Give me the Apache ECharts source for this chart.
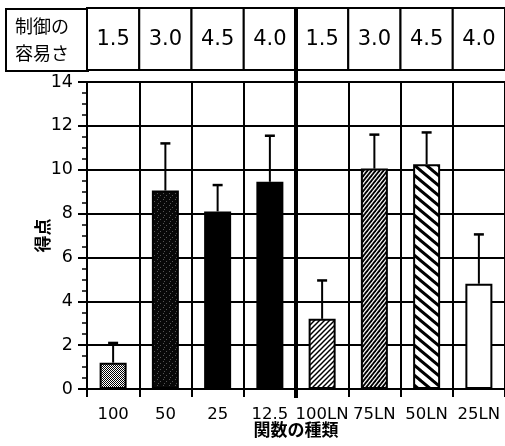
<!DOCTYPE html>
<html><head><meta charset="utf-8">
<script src="https://cdn.jsdelivr.net/npm/echarts@6/dist/echarts.min.js"></script>
<style>html,body{margin:0;padding:0;background:#fff}#c{width:505px;height:446px}</style>
</head><body><div id="c"></div>
<script>
// ---- data ----
const categories = ['100', '50', '25', '12.5', '100LN', '75LN', '50LN', '25LN'];
const scores = [1.2, 9.05, 8.1, 9.45, 3.2, 10.05, 10.25, 4.8];
const errorTops = [2.1, 11.2, 9.3, 11.55, 4.95, 11.6, 11.7, 7.05];
const controlEase = ['1.5', '3.0', '4.5', '4.0', '1.5', '3.0', '4.5', '4.0'];
const groupBoundary = [3, 4]; // thick divider between these two categories
const tableHeader = '制御の\n容易さ';
const yName = '得点';
const xName = '関数の種類';

// ---- layout ----
const PLOT_LEFT = 87, PLOT_RIGHT = -2, PLOT_TOP = 82, PLOT_BOTTOM = 57;
const TABLE_TOP = 8, TABLE_H = 62;
const NUM_FONT = '"DejaVu Sans", sans-serif';
const CJK_FONT = '"Noto Sans CJK JP", sans-serif';

// ---- fill patterns ----
function mk(w, h) { const c = document.createElement('canvas'); c.width = w; c.height = h; return c; }
function checker() {
  const c = mk(2, 2), g = c.getContext('2d');
  g.fillStyle = '#fff'; g.fillRect(0, 0, 2, 2);
  g.fillStyle = '#000'; g.fillRect(0, 0, 1, 1); g.fillRect(1, 1, 1, 1);
  return { image: c, repeat: 'repeat' };
}
function darkSpeckle() {
  const c = mk(6, 6), g = c.getContext('2d');
  g.fillStyle = '#080808'; g.fillRect(0, 0, 6, 6);
  g.fillStyle = '#555'; g.fillRect(1, 1, 1, 1); g.fillRect(4, 3, 1, 1); g.fillRect(2, 5, 1, 1);
  return { image: c, repeat: 'repeat' };
}
function hatch(w, h, lw, dir) {
  const c = mk(w, h), g = c.getContext('2d');
  g.fillStyle = '#fff'; g.fillRect(0, 0, w, h);
  g.strokeStyle = '#000'; g.lineWidth = lw; g.lineCap = 'square';
  for (let k = -1; k <= 1; k++) {
    g.beginPath();
    if (dir === '/') { g.moveTo(k * w, h); g.lineTo(k * w + w, 0); }
    else { g.moveTo(k * w, 0); g.lineTo(k * w + w, h); }
    g.stroke();
  }
  return { image: c, repeat: 'repeat' };
}
const fills = [
  checker(), darkSpeckle(), '#000', '#000',
  hatch(5, 5, 1.5, '/'), hatch(4, 5, 1.9, '/'), hatch(12, 10, 3, '\\'), '#fff'
];

const chart = echarts.init(document.getElementById('c'), null, { renderer: 'canvas' });

chart.setOption({
  animation: false,
  backgroundColor: '#fff',
  grid: [
    { left: PLOT_LEFT, right: PLOT_RIGHT, top: PLOT_TOP, bottom: PLOT_BOTTOM },
    { left: PLOT_LEFT, right: PLOT_RIGHT, top: TABLE_TOP, height: TABLE_H }
  ],
  xAxis: [
    {
      type: 'category', gridIndex: 0, data: categories,
      name: xName, nameLocation: 'middle', nameGap: 32, nameMoveOverlap: false,
      nameTextStyle: { fontFamily: CJK_FONT, fontSize: 17, color: '#000', fontWeight: 'bold' },
      axisLine: { lineStyle: { color: '#000', width: 2 } },
      axisTick: { show: true, length: 8, lineStyle: { color: '#000', width: 2 } },
      axisLabel: { interval: 0, color: '#000', fontFamily: NUM_FONT, fontSize: 16.5, margin: 17 },
      splitLine: { show: true, interval: 0, lineStyle: { color: '#000', width: 2 } }
    },
    { type: 'category', gridIndex: 1, data: categories, show: false }
  ],
  yAxis: [
    {
      type: 'value', gridIndex: 0, min: 0, max: 14, interval: 2,
      name: yName, nameLocation: 'middle', nameGap: 36, nameMoveOverlap: false,
      nameTextStyle: { fontFamily: CJK_FONT, fontSize: 17, color: '#000', fontWeight: 'bold' },
      axisLine: { show: true, lineStyle: { color: '#000', width: 2 } },
      axisTick: { show: true, length: 9, lineStyle: { color: '#000', width: 2 } },
      minorTick: { show: true, splitNumber: 4, length: 5, lineStyle: { color: '#000', width: 1.5 } },
      axisLabel: { color: '#000', fontFamily: NUM_FONT, fontSize: 17.5, margin: 14 },
      splitLine: { show: true, lineStyle: { color: '#000', width: 2 } }
    },
    { type: 'value', gridIndex: 1, min: 0, max: 1, show: false }
  ],
  graphic: [{
    type: 'group', left: 5, top: TABLE_TOP,
    children: [
      { type: 'rect', shape: { x: 0, y: 0, width: PLOT_LEFT - 5, height: TABLE_H },
        style: { fill: '#fff', stroke: '#000', lineWidth: 2 } },
      { type: 'text', x: 9, y: TABLE_H / 2,
        style: { text: tableHeader, font: '18px ' + CJK_FONT, fill: '#000',
                 verticalAlign: 'middle', align: 'left', lineHeight: 27 } }
    ]
  }],
  series: [
    {
      type: 'bar', xAxisIndex: 0, yAxisIndex: 0, barWidth: 27, z: 2,
      data: scores.map((v, i) => ({
        value: v,
        itemStyle: { color: fills[i], borderColor: '#000', borderWidth: 2 }
      }))
    },
    {
      type: 'custom', xAxisIndex: 0, yAxisIndex: 0, z: 3,
      data: scores.map((v, i) => [i, v, errorTops[i]]),
      encode: { x: 0, y: [1, 2] },
      renderItem(params, api) {
        const x = api.value(0);
        const lo = api.coord([x, api.value(1)]);
        const hi = api.coord([x, api.value(2)]);
        const cap = 5;
        return {
          type: 'group', children: [
            { type: 'line', shape: { x1: lo[0], y1: lo[1], x2: hi[0], y2: hi[1] }, style: { stroke: '#000', lineWidth: 2 } },
            { type: 'line', shape: { x1: hi[0] - cap, y1: hi[1], x2: hi[0] + cap, y2: hi[1] }, style: { stroke: '#000', lineWidth: 2.5 } }
          ]
        };
      }
    },
    {
      type: 'custom', xAxisIndex: 1, yAxisIndex: 1, z: 2,
      data: controlEase.map((v, i) => [i, 0.5]),
      renderItem(params, api) {
        const i = api.value(0);
        const c = api.coord([i, 0.5]);
        const w = api.size([1, 0])[0];
        const top = api.coord([i, 1])[1], bot = api.coord([i, 0])[1];
        return {
          type: 'group', children: [
            { type: 'rect', shape: { x: c[0] - w / 2, y: top, width: w, height: bot - top },
              style: { fill: '#fff', stroke: '#000', lineWidth: 2 } },
            { type: 'text', style: { text: controlEase[params.dataIndex], x: c[0], y: c[1] + 1,
              align: 'center', verticalAlign: 'middle', font: '21px ' + NUM_FONT, fill: '#000' } }
          ]
        };
      }
    },
    {
      type: 'custom', xAxisIndex: 0, yAxisIndex: 0, z: 6,
      data: [[groupBoundary[0], groupBoundary[1]]],
      renderItem(params, api) {
        const a = api.coord([api.value(0), 0]);
        const b = api.coord([api.value(1), 0]);
        const x = (a[0] + b[0]) / 2;
        return { type: 'line', shape: { x1: x, y1: TABLE_TOP - 1, x2: x, y2: a[1] + 9 },
                 style: { stroke: '#000', lineWidth: 4 } };
      }
    }
  ]
});
</script></body></html>
